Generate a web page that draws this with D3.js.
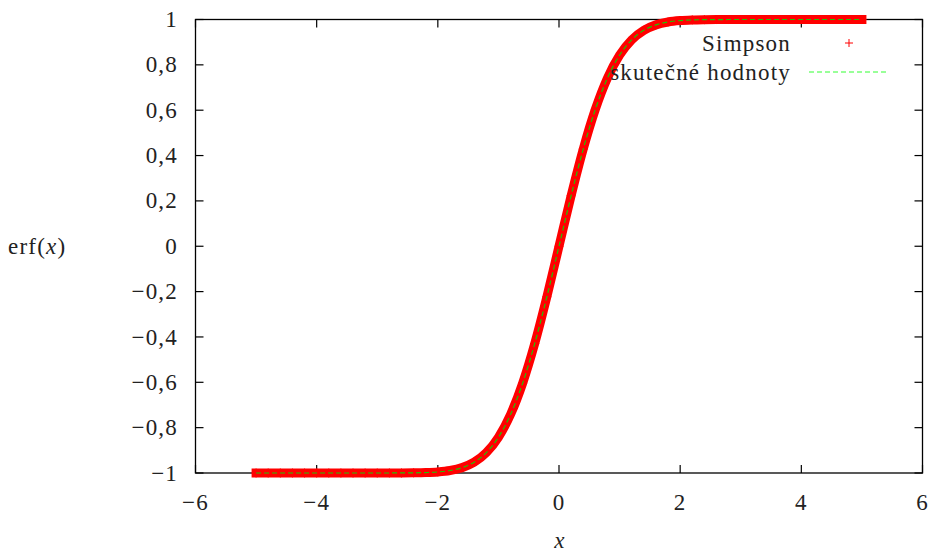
<!DOCTYPE html>
<html>
<head>
<meta charset="utf-8">
<script src="https://cdn.jsdelivr.net/npm/d3@7"></script>
<style>
  body { margin: 0; background: #fff; }
  text { font-family: "Liberation Serif", "Times New Roman", serif; fill: #222; font-size: 23px; letter-spacing: 1.2px; }
</style>
</head>
<body>
<div id="chart"></div>
<script>
// sample points
var xValues = [-5.0, -4.8, -4.6, -4.4, -4.2, -4.0, -3.8, -3.6, -3.4, -3.2,
  -3.0, -2.8, -2.6, -2.4, -2.2, -2.0, -1.8, -1.6, -1.4, -1.2,
  -1.0, -0.8, -0.6, -0.4, -0.2, 0.0, 0.2, 0.4, 0.6, 0.8,
  1.0, 1.2, 1.4, 1.6, 1.8, 2.0, 2.2, 2.4, 2.6, 2.8,
  3.0, 3.2, 3.4, 3.6, 3.8, 4.0, 4.2, 4.4, 4.6, 4.8, 5.0];
var simpsonValues = [-1, -1, -1, -1, -1, -1, -1, -1, -1, -1,
  -1, -0.9999, -0.9998, -0.9993, -0.9981, -0.9953, -0.9891, -0.9763, -0.9523, -0.9103,
  -0.8427, -0.7421, -0.6039, -0.4284, -0.2227, 0, 0.2227, 0.4284, 0.6039, 0.7421,
  0.8427, 0.9103, 0.9523, 0.9763, 0.9891, 0.9953, 0.9981, 0.9993, 0.9998, 0.9999,
  1, 1, 1, 1, 1, 1, 1, 1, 1, 1, 1];
var exactValues = [-1, -1, -1, -1, -1, -1, -1, -1, -1, -1,
  -1, -0.9999, -0.9998, -0.9993, -0.9981, -0.9953, -0.9891, -0.9763, -0.9523, -0.9103,
  -0.8427, -0.7421, -0.6039, -0.4284, -0.2227, 0, 0.2227, 0.4284, 0.6039, 0.7421,
  0.8427, 0.9103, 0.9523, 0.9763, 0.9891, 0.9953, 0.9981, 0.9993, 0.9998, 0.9999,
  1, 1, 1, 1, 1, 1, 1, 1, 1, 1, 1];
var xTicks = [-6, -4, -2, 0, 2, 4, 6];
var yTicks = [-1, -0.8, -0.6, -0.4, -0.2, 0, 0.2, 0.4, 0.6, 0.8, 1];
var legendLabels = ["Simpson", "skutečné hodnoty"];

var width = 931, height = 552;
var plotLeft = 195.5, plotRight = 922.5, plotTop = 19.5, plotBottom = 473;

var svg = d3.select("#chart")
  .append("svg")
  .attr("width", width)
  .attr("height", height);

var x = d3.scaleLinear().domain([-6, 6]).range([plotLeft, plotRight]);
var y = d3.scaleLinear().domain([-1, 1]).range([plotBottom, plotTop]);

function fmt(v) {
  var s = String(+v.toFixed(1)).replace(".", ",");
  return s.replace("-", "\u2212");
}

var tickLen = 8;

// ticks on all four sides, pointing inward
var gx = svg.append("g").attr("class", "x axis");
xTicks.forEach(function (t) {
  gx.append("line").attr("x1", x(t)).attr("x2", x(t))
    .attr("y1", plotBottom).attr("y2", plotBottom - tickLen)
    .attr("stroke", "#000").attr("stroke-width", 1.2);
  gx.append("line").attr("x1", x(t)).attr("x2", x(t))
    .attr("y1", plotTop).attr("y2", plotTop + tickLen)
    .attr("stroke", "#000").attr("stroke-width", 1.2);
  gx.append("text")
    .attr("x", x(t))
    .attr("y", 510)
    .attr("text-anchor", "middle")
    .text(fmt(t));
});

var gy = svg.append("g").attr("class", "y axis");
yTicks.forEach(function (t) {
  gy.append("line").attr("x1", plotLeft).attr("x2", plotLeft + tickLen)
    .attr("y1", y(t)).attr("y2", y(t))
    .attr("stroke", "#000").attr("stroke-width", 1.2);
  gy.append("line").attr("x1", plotRight).attr("x2", plotRight - tickLen)
    .attr("y1", y(t)).attr("y2", y(t))
    .attr("stroke", "#000").attr("stroke-width", 1.2);
  gy.append("text")
    .attr("x", 178)
    .attr("y", y(t))
    .attr("dy", "0.33em")
    .attr("text-anchor", "end")
    .text(fmt(t));
});

// frame
svg.append("rect")
  .attr("x", plotLeft).attr("y", plotTop)
  .attr("width", plotRight - plotLeft).attr("height", plotBottom - plotTop)
  .attr("fill", "none")
  .attr("stroke", "#000")
  .attr("stroke-width", 1.3);

// axis labels
var ylab = svg.append("text")
  .attr("x", 8).attr("y", 246)
  .attr("dy", "0.33em");
ylab.append("tspan").text("erf(");
ylab.append("tspan").style("font-style", "italic").text("x");
ylab.append("tspan").text(")");

svg.append("text")
  .attr("x", 560).attr("y", 548)
  .attr("text-anchor", "middle")
  .style("font-style", "italic")
  .text("x");

var simpson = xValues.map(function (d, i) { return [d, simpsonValues[i]]; });
var exact = xValues.map(function (d, i) { return [d, exactValues[i]]; });

var line = d3.line()
  .x(function (d) { return x(d[0]); })
  .y(function (d) { return y(d[1]); })
  .curve(d3.curveMonotoneX);

// Simpson points: dense "+" marks merge into a thick red band
svg.append("path")
  .datum(simpson)
  .attr("d", line)
  .attr("fill", "none")
  .attr("stroke", "#ff0000")
  .attr("stroke-width", 9)
  .attr("stroke-linecap", "square");

svg.selectAll(".mark")
  .data(simpson)
  .enter()
  .append("path")
  .attr("class", "mark")
  .attr("d", function (d) {
    var cx = x(d[0]), cy = y(d[1]), r = 4.5;
    return "M" + (cx - r) + "," + cy + "H" + (cx + r) +
      "M" + cx + "," + (cy - r) + "V" + (cy + r);
  })
  .attr("stroke", "#ff0000")
  .attr("stroke-width", 1);

svg.append("path")
  .datum(exact)
  .attr("d", line)
  .attr("fill", "none")
  .attr("stroke", "#22c400")
  .attr("stroke-width", 1.2)
  .attr("stroke-dasharray", "5,3");

// legend
var legend = svg.append("g").attr("class", "legend");
legend.append("text")
  .attr("x", 791).attr("y", 43)
  .attr("dy", "0.33em")
  .attr("text-anchor", "end")
  .text(legendLabels[0]);
legend.append("path")
  .attr("d", "M845,43H853M849,39V47")
  .attr("stroke", "#ff0000")
  .attr("stroke-width", 1);

legend.append("text")
  .attr("x", 791).attr("y", 72)
  .attr("dy", "0.33em")
  .attr("text-anchor", "end")
  .text(legendLabels[1]);
legend.append("line")
  .attr("x1", 809).attr("x2", 887)
  .attr("y1", 72).attr("y2", 72)
  .attr("stroke", "#33ff33")
  .attr("stroke-width", 1)
  .attr("stroke-dasharray", "5,3");
</script>
</body>
</html>
